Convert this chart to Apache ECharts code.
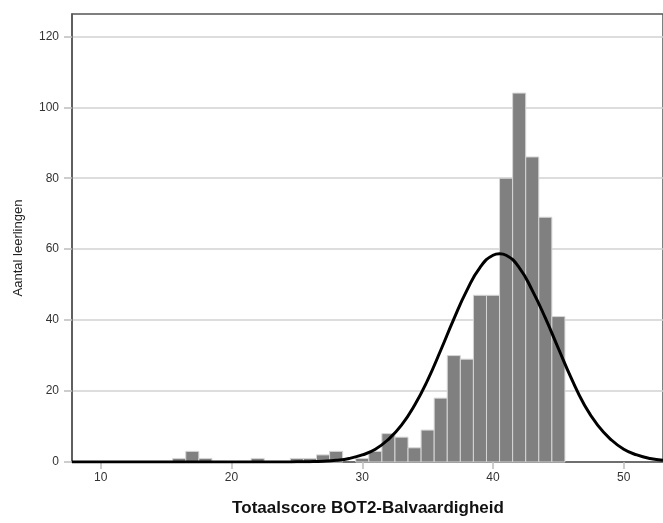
<!DOCTYPE html>
<html>
<head>
<meta charset="utf-8">
<script src="https://cdn.jsdelivr.net/npm/echarts@6/dist/echarts.min.js"></script>
<style>
html,body{margin:0;padding:0;background:#fff;}
#chart{width:663px;height:523px;}
</style>
</head>
<body>
<div id="chart"></div>
<script>
// Histogram bins (score = bin centre) and counts
const binScores = [16, 17, 18, 22, 25, 26, 27, 28, 30, 31, 32, 33, 34, 35, 36, 37, 38, 39, 40, 41, 42, 43, 44, 45];
const binCounts = [1, 3, 1, 1, 1, 1, 2, 3, 1, 3, 8, 7, 4, 9, 18, 30, 29, 47, 47, 80, 104, 86, 69, 41];

// Normal curve points
const curveX = [7.8, 10, 12, 14, 16, 18, 20, 22, 24, 25, 26, 27, 28, 29, 30, 31, 32, 33, 34, 35, 36, 37, 38, 39, 40, 40.5, 41, 42, 43, 44, 45, 46, 47, 48, 49, 50, 51, 52, 53];
const curveY = [0, 0, 0, 0, 0, 0, 0, 0, 0, 0.04, 0.09, 0.22, 0.48, 1.0, 2.0, 3.6, 6.4, 10.4, 16.0, 23.1, 31.5, 40.3, 48.4, 54.8, 58.3, 58.7, 58.3, 54.8, 48.4, 40.6, 32.0, 23.5, 16.0, 10.4, 6.4, 3.6, 2.0, 1.0, 0.5];

// Axis ticks
const xTicks = [10, 20, 30, 40, 50];
const yTicks = [0, 20, 40, 60, 80, 100, 120];

const xTitle = 'Totaalscore BOT2-Balvaardigheid';
const yTitle = 'Aantal leerlingen';

const chart = echarts.init(document.getElementById('chart'), null, {renderer: 'canvas'});

const barData = binScores.map((s, i) => [s, binCounts[i]]);
const curveData = curveX.map((x, i) => [x, curveY[i]]);

chart.setOption({
  animation: false,
  backgroundColor: '#ffffff',
  textStyle: {fontFamily: 'Liberation Sans'},
  grid: {
    left: 72, top: 14, width: 604, height: 448,
    show: true, borderColor: '#555555', borderWidth: 1.5, backgroundColor: 'transparent'
  },
  xAxis: {
    type: 'value', min: 7.8, max: 53,
    axisLine: {show: true, lineStyle: {color: '#555555', width: 1.5}},
    axisTick: {show: true, length: 7, lineStyle: {color: '#bdbdbd', width: 1.5}, customValues: xTicks},
    axisLabel: {color: '#333', fontSize: 12, margin: 10, customValues: xTicks, fontFamily: 'Liberation Sans'},
    splitLine: {show: false}
  },
  yAxis: {
    type: 'value', min: 0, max: 126.3, interval: 20,
    axisLine: {show: true, lineStyle: {color: '#555555', width: 1.5}},
    axisTick: {show: true, length: 8, lineStyle: {color: '#bdbdbd', width: 1.5}, customValues: yTicks},
    axisLabel: {color: '#333', fontSize: 12, margin: 13, customValues: yTicks, fontFamily: 'Liberation Sans'},
    splitLine: {show: true, lineStyle: {color: '#d2d2d2', width: 1.5}}
  },
  graphic: [
    {type: 'text', x: 368, y: 508, style: {text: xTitle, font: 'bold 17px "Liberation Sans"', fill: '#111', textAlign: 'center', textVerticalAlign: 'middle'}},
    {type: 'text', x: 18, y: 248, rotation: Math.PI / 2, style: {text: yTitle, font: '13px "Liberation Sans"', fill: '#222', textAlign: 'center', textVerticalAlign: 'middle'}}
  ],
  series: [
    {
      type: 'custom',
      data: barData,
      renderItem: function (params, api) {
        const x = api.value(0), y = api.value(1);
        const p0 = api.coord([x - 0.5, y]);
        const p1 = api.coord([x + 0.5, 0]);
        return {
          type: 'rect',
          shape: {x: p0[0], y: p0[1], width: p1[0] - p0[0], height: p1[1] - p0[1]},
          style: {fill: '#808080', stroke: '#d6d6d6', lineWidth: 1}
        };
      },
      z: 2
    },
    {
      type: 'line',
      data: curveData,
      smooth: true,
      showSymbol: false,
      lineStyle: {color: '#000000', width: 3},
      z: 3
    }
  ]
});
</script>
</body>
</html>
